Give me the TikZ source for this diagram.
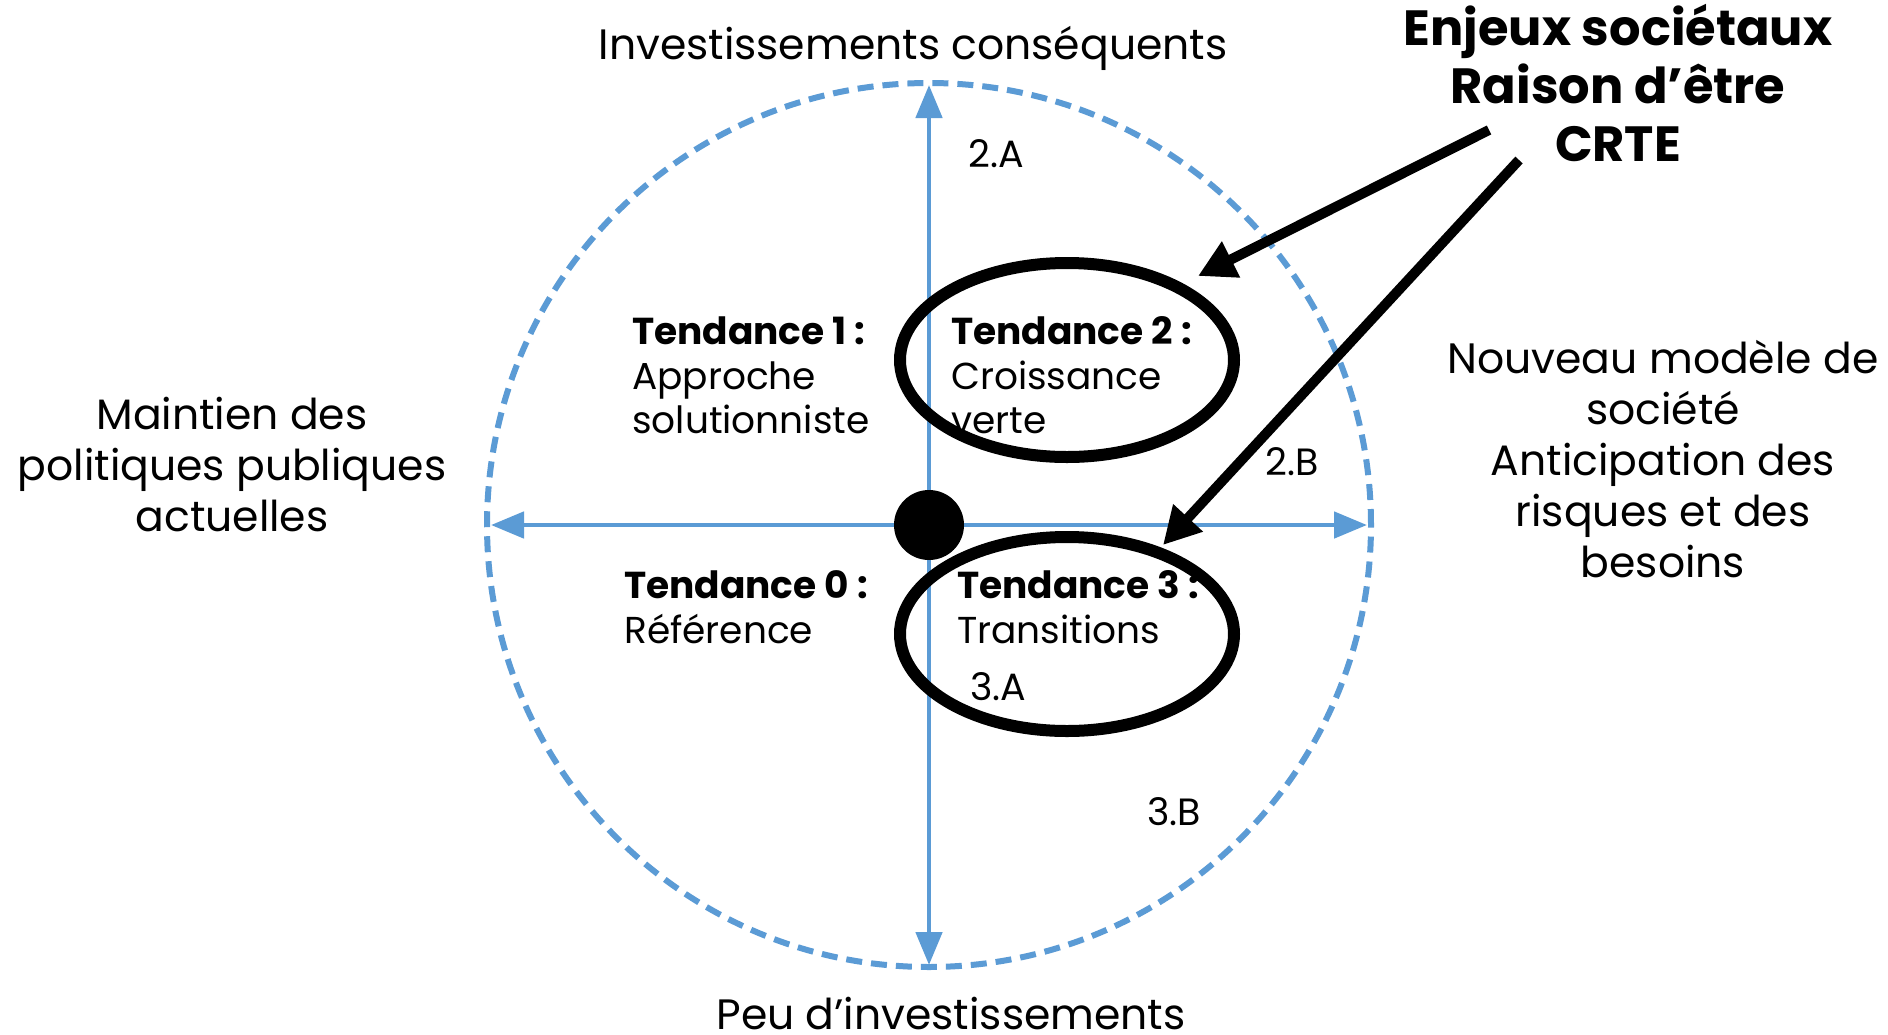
\documentclass[tikz,border=0pt]{standalone}
\usepackage{fontspec}
\setmainfont{Poppins}
\usetikzlibrary{arrows.meta,shapes.geometric}
\definecolor{axblue}{RGB}{91,155,213}
\begin{document}
\begin{tikzpicture}[x=1pt,y=-1pt,
  axis/.style={draw=axblue, line width=4.8pt, {Triangle[length=33pt,width=26pt]}-{Triangle[length=33pt,width=26pt]}},
  ring/.style={circle, draw=axblue, line width=6pt, dash pattern=on 16pt off 9pt, minimum size=884pt, inner sep=0pt},
  hilite/.style={ellipse, draw=black, line width=12pt, minimum width=334pt, minimum height=194pt, inner sep=0pt},
  pointer/.style={draw=black, line width=10pt, -{Triangle[length=37pt,width=38pt]}},
  bigtxt/.style={font=\fontsize{42.5}{51}\selectfont, align=center, inner sep=0pt},
  ttxt/.style={font=\fontsize{37.5}{44.5}\selectfont, align=left, inner sep=0pt, anchor=base west},
  lbl/.style={font=\fontsize{38}{40}\selectfont, inner sep=0pt, anchor=base},
  headtxt/.style={font=\bfseries\fontsize{49.5}{58}\selectfont, align=center, inner sep=0pt}
]
\useasboundingbox (0,0) rectangle (1888,1034);
\fill[white] (0,0) rectangle (1888,1034);

% axes
\coordinate (axT) at (929,85);
\coordinate (axB) at (929,965);
\coordinate (axL) at (491,525);
\coordinate (axR) at (1367,525);
\node[ring] (circ) at (929,525) {};
\draw[axis] (axB) -- (axT);
\draw[axis] (axL) -- (axR);
\node[circle, fill=black, minimum size=70pt, inner sep=0pt] (origin) at (929,525) {};

% axis labels
\node[bigtxt, anchor=base] (top) at (913,59) {Investissements conséquents};
\node[bigtxt, anchor=base] (bottom) at (951,1029) {Peu d’investissements};
\node[bigtxt, anchor=base] (left) at (232,531.5) {Maintien des\\politiques publiques\\actuelles};
\node[bigtxt, anchor=base] (right) at (1663,577.5) {Nouveau modèle de\\société\\Anticipation des\\risques et des\\besoins};

% tendances
\node[ttxt] (t1) at (632,433.5) {\textbf{Tendance 1 :}\\Approche\\solutionniste};
\node[ttxt] (t2) at (951,433.5) {\textbf{Tendance 2 :}\\Croissance\\verte};
\node[ttxt] (t0) at (624,643) {\textbf{Tendance 0 :}\\Référence};
\node[ttxt] (t3) at (957,643) {\textbf{Tendance 3 :}\\Transitions};

% small labels
\node[lbl] (l2a) at (996,167.5) {2.A};
\node[lbl] (l2b) at (1292,475.5) {2.B};
\node[lbl] (l3a) at (998,700.5) {3.A};
\node[lbl] (l3b) at (1174,825.5) {3.B};

% highlight ellipses
\node[hilite] (e2) at (1067,360) {};
\node[hilite] (e3) at (1067,634) {};

% header
\node[headtxt, anchor=base] (head) at (1618,161) {Enjeux sociétaux\\Raison d’être\\CRTE};

% pointers
\coordinate (p1s) at (1489,130);
\coordinate (p1e) at (1198,276);
\coordinate (p2s) at (1519,160);
\coordinate (p2e) at (1163,545);
\draw[pointer] (p1s) -- (p1e);
\draw[pointer] (p2s) -- (p2e);
\end{tikzpicture}
\end{document}
